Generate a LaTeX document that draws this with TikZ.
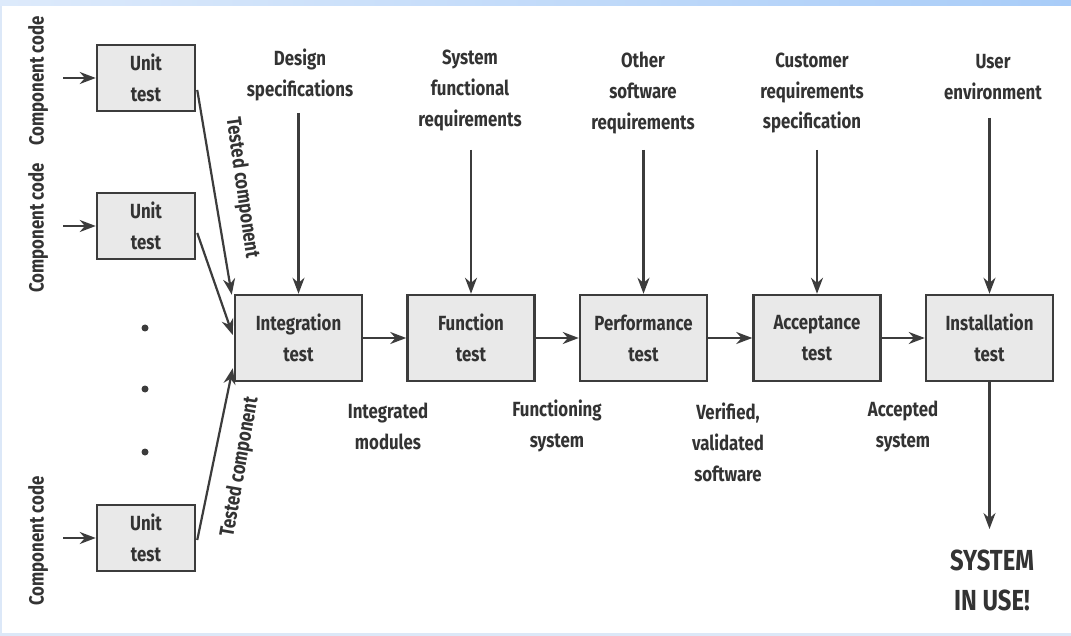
\documentclass[tikz,border=0pt]{standalone}
\usepackage{fontspec}
\setmainfont{Fira Sans}[FakeStretch=0.82]
\usetikzlibrary{arrows.meta,calc}
\definecolor{boxfill}{HTML}{E9E9E9}
\definecolor{linec}{HTML}{3C3C3C}
\definecolor{textc}{HTML}{333333}
\definecolor{bandL}{HTML}{DDEAFB}
\definecolor{bandR}{HTML}{A8CCF8}
\definecolor{edgec}{HTML}{DCE8F8}
\newcommand{\lblfont}{\fontsize{20.5}{31}\selectfont\bfseries}
\newcommand{\bigfont}{\fontsize{29}{40}\selectfont\bfseries}
\tikzset{
  testbox/.style={draw=linec, fill=boxfill, line width=2.5pt, align=center,
    font=\lblfont, text=textc, inner sep=0pt},
  unitbox/.style={testbox, minimum width=98pt, minimum height=66pt},
  mainbox/.style={testbox, minimum width=127pt, minimum height=86pt},
  lbl/.style={align=center, font=\lblfont, text=textc, inner sep=0pt},
  arr/.style={draw=linec, line width=2.2pt, -{Stealth[length=16pt,width=12pt]}},
  dotmark/.style={circle, fill=linec, inner sep=0pt, minimum size=7pt}
}
\begin{document}
\begin{tikzpicture}[x=1pt,y=-1pt]
\useasboundingbox (0,0) rectangle (1071,636);
\fill[white] (0,0) rectangle (1071,636);
\shade[left color=bandL, right color=bandR] (0,0) rectangle (1071,6);
\fill[edgec] (0,6) rectangle (2,636);
\fill[edgec] (2,633) rectangle (1071,636);

% unit test boxes
\node[unitbox] (u1) at (146,78) {Unit\\test};
\node[unitbox] (u2) at (146,226) {Unit\\test};
\node[unitbox] (u3) at (146,538) {Unit\\test};

% component code labels
\node[lbl, rotate=90] (cc1) at (38,81) {Component code};
\node[lbl, rotate=90] (cc2) at (38,228) {Component code};
\node[lbl, rotate=90] (cc3) at (38,541) {Component code};
\coordinate (in1) at (63,78);
\coordinate (in2) at (63,226);
\coordinate (in3) at (63,538);
\draw[arr] (in1) -- (u1.west);
\draw[arr] (in2) -- (u2.west);
\draw[arr] (in3) -- (u3.west);

% dots
\node[dotmark] (d1) at (145,328) {};
\node[dotmark] (d2) at (145,389) {};
\node[dotmark] (d3) at (145,452) {};

% main boxes
\node[mainbox] (int) at (298.5,338) {Integration\\test};
\node[mainbox] (fun) at (471,338) {Function\\test};
\node[mainbox] (perf) at (643.5,338) {Performance\\test};
\node[mainbox] (acc) at (817,338) {Acceptance\\test};
\node[mainbox] (inst) at (989.5,338) {Installation\\test};

% tested component connectors
\draw[arr] ($(u1.east)+(1pt,-12pt)$) -- ($(int.north west)+(-2pt,-1pt)$);
\draw[arr] ($(u2.east)+(1pt,-7pt)$) -- ($(int.west)+(-1pt,3pt)$);
\draw[arr] ($(u3.east)+(1pt,-2pt)$) -- ($(int.south west)+(-1pt,14pt)$);
\node[lbl, rotate=-82] (tc1) at (242,188) {Tested component};
\node[lbl, rotate=80] (tc2) at (240,467) {Tested component};

% top inputs
\node[lbl] (ds) at (300,75) {Design\\specifications};
\node[lbl] (sf) at (470,91) {System\\functional\\requirements};
\node[lbl] (os) at (643,93) {Other\\software\\requirements};
\node[lbl] (cr) at (812,93) {Customer\\requirements\\specification};
\node[lbl] (ue) at (993,77.5) {User\\environment};
\draw[arr] (int.north |- 0,113) -- (int.north);
\draw[arr] (fun.north |- 0,150) -- (fun.north);
\draw[arr] (perf.north |- 0,150) -- (perf.north);
\draw[arr] (acc.north |- 0,150) -- (acc.north);
\draw[arr] (inst.north |- 0,118) -- (inst.north);

% chain
\draw[arr] (int.east) -- (fun.west);
\draw[arr] (fun.east) -- (perf.west);
\draw[arr] (perf.east) -- (acc.west);
\draw[arr] (acc.east) -- (inst.west);

% outputs
\node[lbl] (im) at (388,426) {Integrated\\modules};
\node[lbl] (fs) at (557,426) {Functioning\\system};
\node[lbl] (vv) at (728,442) {Verified,\\validated\\software};
\node[lbl] (as) at (903,426) {Accepted\\system};

\coordinate (useend) at (989.5,529);
\draw[arr] (inst.south) -- (useend);
\node[lbl, font=\bigfont] (siu) at (992,580) {SYSTEM\\IN USE!};
\end{tikzpicture}
\end{document}
